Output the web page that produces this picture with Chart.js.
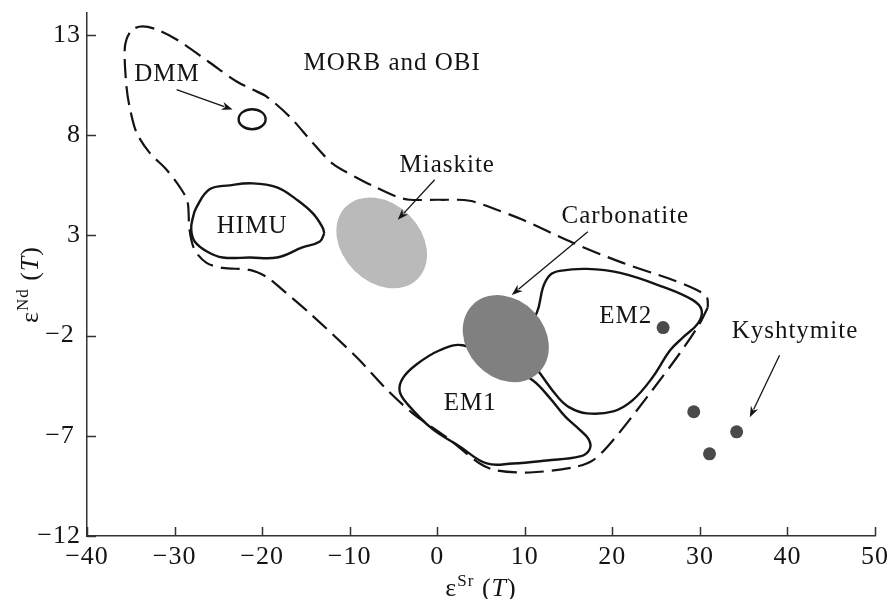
<!DOCTYPE html>
<html>
<head>
<meta charset="utf-8">
<title>eSr - eNd diagram</title>
<script src="https://cdn.jsdelivr.net/npm/chart.js@4.4.1/dist/chart.umd.min.js"></script>
<style>
  html, body { margin: 0; padding: 0; background: #fff; }
  #wrap { width: 889px; height: 599px; }
</style>
</head>
<body>
<div id="wrap"><canvas id="chart" width="889" height="599"></canvas></div>
<script>
// axis ticks
const xTicks = [-40, -30, -20, -10, 0, 10, 20, 30, 40, 50];
const yTicks = [-12, -7, -2, 3, 8, 13];

// MORB and OBI field (dashed)
const morbX = [30.91, 30.0, 27.71, 23.94, 20.06, 17.77, 15.49, 10.57, 6.8, 4.86, 1.09, -2.8, -6.0, -9.2,
  -14.57, -17.66, -19.49, -21.43, -24.51, -26.34, -27.71, -28.29, -28.51, -29.2, -30.91, -32.86, -34.34, -35.14,
  -35.49, -35.71, -35.49, -34.8, -33.66, -32.06, -29.77, -26.0, -22.91, -21.09, -19.49, -16.86, -14.23,
  -11.94, -9.2, -7.14, -4.63, -3.14, 0.29, 3.71, 6.8, 9.77, 15.49, 21.2, 26.91, 29.66, 30.8, 30.91];
const morbY = [-0.58, -1.38, -2.88, -5.08, -7.23, -8.23, -8.58, -8.83, -8.73, -8.38, -7.08, -5.88, -4.58, -3.08,
  -0.88, 0.28, 0.93, 1.28, 1.38, 1.63, 2.28, 3.28, 4.68, 5.28, 6.28, 7.13, 8.13, 9.43,
  10.43, 12.13, 12.78, 13.28, 13.43, 13.28, 12.78, 11.63, 10.68, 10.28, 9.93, 8.93, 7.63,
  6.58, 5.88, 5.43, 4.93, 4.78, 4.78, 4.73, 4.28, 3.78, 2.63, 1.63, 0.78, 0.28, -0.08, -0.58];

// HIMU field
const himuX = [-12.9, -13.4, -15.4, -18.3, -21.4, -24.5, -26.3, -27.7, -28.1, -27.9, -27.5, -26.0, -23.7, -21.1, -18.3, -16.1, -14.2, -13.1, -12.9];
const himuY = [3.1, 2.7, 2.4, 1.9, 1.9, 1.9, 2.2, 2.7, 3.3, 3.9, 4.4, 5.3, 5.5, 5.6, 5.4, 4.8, 4.1, 3.4, 3.1];

// EM1 field
const em1X = [7.1, 2.91, 0.29, -2.34, -3.94, -4.29, -3.37, -0.63, 2.57, 5.66, 8.63, 12.5, 16.3, 17.4, 17.3, 16.1, 14.6, 12.9, 10.9, 7.1];
const em1Y = [-3.23, -2.48, -2.73, -3.43, -4.13, -4.78, -5.43, -6.63, -7.53, -8.38, -8.38, -8.23, -8.03, -7.68, -7.18, -6.63, -6.03, -5.13, -4.23, -3.23];

// EM2 field
const em2X = [9.4, 11.4, 12.1, 12.9, 14.0, 17.1, 20.9, 25.8, 29.2, 30.2, 29.8, 28.1, 26.6, 24.6, 22.3, 20.1, 17.1, 15.1, 13.7, 11.9, 9.4];
const em2Y = [-2.48, -0.83, 0.43, 1.03, 1.23, 1.33, 1.13, 0.43, -0.23, -0.73, -1.38, -2.08, -2.73, -4.08, -5.23, -5.78, -5.88, -5.58, -5.03, -3.98, -2.48];

// Kyshtymite samples
const kyshX = [25.8, 29.3, 34.2, 31.1];
const kyshY = [-1.6, -5.8, -6.8, -7.9];

// ellipses: centre x, centre y, then two conjugate half-axes (data units)
const dmmEllipse = [-21.14, 8.8, 1.54, 0, 0, 0.5];
const miaskiteEllipse = [-6.34, 2.63, 4.11, -1.8, 3.15, 1.38];
const carbonatiteEllipse = [7.83, -2.15, 3.71, -1.72, 3.23, 1.33];

// labels (centre x, baseline y in data units)
const labelText = ['MORB and OBI', 'DMM', 'HIMU', 'Miaskite', 'Carbonatite', 'EM2', 'EM1', 'Kyshtymite'];
const labelX = [-5.14, -30.86, -21.14, 1.14, 21.49, 21.54, 3.77, 40.86];
const labelY = [11.24, 10.69, 3.11, 6.19, 3.64, -1.39, -5.73, -2.1];

// arrows
const arrowFrom = [[-29.77, 10.28], [-0.29, 5.78], [17.2, 3.18], [39.1, -2.98]];
const arrowTo = [[-23.37, 9.28], [-4.51, 3.78], [8.51, 0.03], [35.7, -6.08]];

const SERIF = "'Liberation Serif', 'Times New Roman', serif";
const INK = '#141414';

function toPoints(xs, ys) {
    return xs.map((v, i) => ({ x: v, y: ys[i] }));
}

function outline(data, dashed) {
    return {
        type: 'line',
        data: data,
        showLine: true,
        fill: false,
        borderColor: INK,
        borderWidth: dashed ? 2.2 : 2.4,
        borderDash: dashed ? [19, 8] : [],
        tension: dashed ? 0.3 : 0.4,
        pointRadius: 0,
        order: 2
    };
}

function drawEllipse(ctx, xs, ys, e, fillColor, strokeColor) {
    const cx = xs.getPixelForValue(e[0]);
    const cy = ys.getPixelForValue(e[1]);
    const ux = xs.getPixelForValue(e[0] + e[2]) - cx;
    const uy = ys.getPixelForValue(e[1] + e[3]) - cy;
    const vx = xs.getPixelForValue(e[0] + e[4]) - cx;
    const vy = ys.getPixelForValue(e[1] + e[5]) - cy;
    ctx.save();
    ctx.beginPath();
    ctx.transform(ux, uy, vx, vy, cx, cy);
    ctx.arc(0, 0, 1, 0, Math.PI * 2);
    ctx.restore();
    if (fillColor) {
        ctx.fillStyle = fillColor;
        ctx.fill();
    }
    if (strokeColor) {
        ctx.strokeStyle = strokeColor;
        ctx.lineWidth = 2.4;
        ctx.stroke();
    }
}

function drawArrow(ctx, x1, y1, x2, y2) {
    const ang = Math.atan2(y2 - y1, x2 - x1);
    const len = 11, half = 4;
    ctx.strokeStyle = INK;
    ctx.fillStyle = INK;
    ctx.lineWidth = 1.3;
    ctx.beginPath();
    ctx.moveTo(x1, y1);
    ctx.lineTo(x2 - Math.cos(ang) * len * 0.8, y2 - Math.sin(ang) * len * 0.8);
    ctx.stroke();
    ctx.beginPath();
    ctx.moveTo(x2, y2);
    ctx.lineTo(x2 - Math.cos(ang) * len - Math.sin(ang) * half, y2 - Math.sin(ang) * len + Math.cos(ang) * half);
    ctx.lineTo(x2 - Math.cos(ang) * len * 0.7, y2 - Math.sin(ang) * len * 0.7);
    ctx.lineTo(x2 - Math.cos(ang) * len + Math.sin(ang) * half, y2 - Math.sin(ang) * len - Math.cos(ang) * half);
    ctx.closePath();
    ctx.fill();
}

// text made of pieces: [text, font, rise]
function drawParts(ctx, parts, x, y) {
    let total = 0;
    parts.forEach(p => { ctx.font = p[1]; total += ctx.measureText(p[0]).width; });
    let cx = x - total / 2;
    ctx.textAlign = 'left';
    ctx.textBaseline = 'alphabetic';
    parts.forEach(p => {
        ctx.font = p[1];
        ctx.fillText(p[0], cx, y - p[2]);
        cx += ctx.measureText(p[0]).width;
    });
}

const overlayPlugin = {
    id: 'overlay',
    beforeDraw(chart) {
        chart.ctx.letterSpacing = '1px';
    },
    afterDatasetsDraw(chart) {
        const { ctx, chartArea } = chart;
        const xs = chart.scales.x, ys = chart.scales.y;
        ctx.save();

        drawEllipse(ctx, xs, ys, miaskiteEllipse, '#bababa', null);
        drawEllipse(ctx, xs, ys, carbonatiteEllipse, '#808080', null);
        drawEllipse(ctx, xs, ys, dmmEllipse, null, INK);

        arrowFrom.forEach((a, i) => {
            drawArrow(ctx, xs.getPixelForValue(a[0]), ys.getPixelForValue(a[1]),
                xs.getPixelForValue(arrowTo[i][0]), ys.getPixelForValue(arrowTo[i][1]));
        });

        // field labels
        ctx.fillStyle = INK;
        ctx.font = '25px ' + SERIF;
        ctx.textAlign = 'center';
        ctx.textBaseline = 'alphabetic';
        labelText.forEach((t, i) => {
            ctx.fillText(t, xs.getPixelForValue(labelX[i]), ys.getPixelForValue(labelY[i]));
        });

        // inward tick marks
        ctx.strokeStyle = '#333';
        ctx.lineWidth = 1.5;
        ctx.beginPath();
        xTicks.forEach(v => {
            const px = Math.round(xs.getPixelForValue(v)) + 0.5;
            ctx.moveTo(px, chartArea.bottom);
            ctx.lineTo(px, chartArea.bottom - 9);
        });
        yTicks.forEach(v => {
            const py = Math.round(ys.getPixelForValue(v)) + 0.5;
            ctx.moveTo(chartArea.left, py);
            ctx.lineTo(chartArea.left + 9, py);
        });
        ctx.stroke();

        // axis titles
        ctx.fillStyle = INK;
        const big = '26px ' + SERIF, small = '17px ' + SERIF, ital = 'italic 26px ' + SERIF;
        drawParts(ctx, [['ε', big, 0], ['Sr', small, 10], [' (', big, 0], ['T', ital, 0], [')', big, 0]],
            (chartArea.left + chartArea.right) / 2, 596);
        ctx.translate(38, (chartArea.top + chartArea.bottom) / 2 + 10);
        ctx.rotate(-Math.PI / 2);
        drawParts(ctx, [['ε', big, 0], ['Nd', small, 10], [' (', big, 0], ['T', ital, 0], [')', big, 0]], 0, 0);

        ctx.restore();
    },
    afterDraw(chart) {
        chart.ctx.letterSpacing = '0px';
    }
};

function minusLabel(v) {
    return String(v).replace('-', '\u2212');
}

// negative single-digit labels sit a little further left in the original
function yLabel(v) {
    const s = minusLabel(v);
    return (v < 0 && v > -10) ? s + '\u2009' : s;
}

new Chart(document.getElementById('chart'), {
    type: 'scatter',
    data: {
        datasets: [
            {
                label: 'Kyshtymite',
                data: toPoints(kyshX, kyshY),
                pointRadius: 6.5,
                pointBackgroundColor: '#4a4a4a',
                pointBorderWidth: 0,
                order: 1
            },
            outline(toPoints(morbX, morbY), true),
            outline(toPoints(himuX, himuY), false),
            outline(toPoints(em1X, em1Y), false),
            outline(toPoints(em2X, em2Y), false)
        ]
    },
    options: {
        responsive: false,
        animation: false,
        layout: { padding: { top: 13, right: 14, left: 0, bottom: 0 } },
        plugins: {
            legend: { display: false },
            tooltip: { enabled: false }
        },
        scales: {
            x: {
                type: 'linear',
                min: -40,
                max: 50,
                afterBuildTicks: s => { s.ticks = xTicks.map(v => ({ value: v })); },
                afterFit: s => { s.height = 63; s.paddingLeft = 0; s.paddingRight = 0; },
                grid: { display: false, drawTicks: false },
                border: { display: true, color: '#333', width: 1.5 },
                ticks: {
                    autoSkip: false,
                    maxRotation: 0,
                    padding: 6,
                    color: INK,
                    font: { family: SERIF, size: 26 },
                    callback: minusLabel
                }
            },
            y: {
                type: 'linear',
                min: -12,
                max: 14.1,
                afterBuildTicks: s => { s.ticks = yTicks.map(v => ({ value: v })); },
                afterFit: s => { s.width = 87; s.paddingTop = 0; s.paddingBottom = 0; },
                grid: { display: false, drawTicks: false },
                border: { display: true, color: '#333', width: 1.5 },
                ticks: {
                    autoSkip: false,
                    padding: 6,
                    color: INK,
                    font: { family: SERIF, size: 26 },
                    callback: yLabel
                }
            }
        }
    },
    plugins: [overlayPlugin]
});
</script>
</body>
</html>
